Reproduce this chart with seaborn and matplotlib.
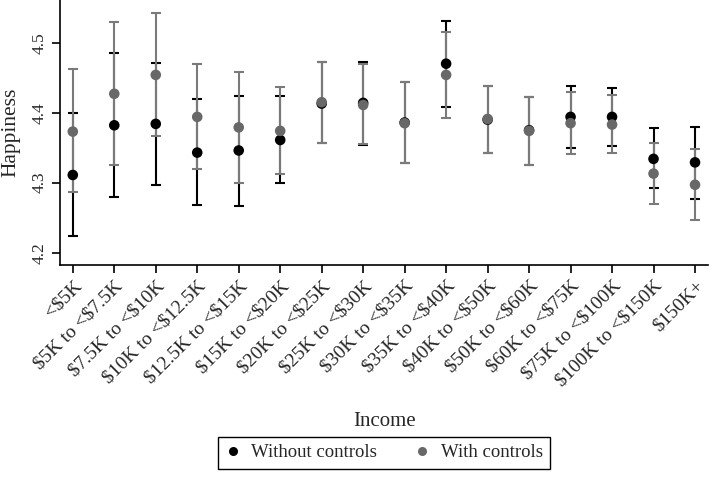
import numpy as np
import pandas as pd
import matplotlib
matplotlib.use("Agg")
import matplotlib.pyplot as plt
import seaborn as sns
from matplotlib.lines import Line2D

categories = ["<$5K", "$5K to <$7.5K", "$7.5K to <$10K", "$10K to <$12.5K",
              "$12.5K to <$15K", "$15K to <$20K", "$20K to <$25K", "$25K to <$30K",
              "$30K to <$35K", "$35K to <$40K", "$40K to <$50K", "$50K to <$60K",
              "$60K to <$75K", "$75K to <$100K", "$100K to <$150K", "$150K+"]

without_mean = [4.311, 4.382, 4.384, 4.343, 4.346, 4.361, 4.413, 4.414,
                4.386, 4.470, 4.390, 4.375, 4.394, 4.394, 4.334, 4.329]
without_lo = [4.224, 4.279, 4.297, 4.268, 4.266, 4.299, 4.356, 4.354,
              4.328, 4.408, 4.342, 4.325, 4.350, 4.353, 4.292, 4.277]
without_hi = [4.400, 4.485, 4.471, 4.419, 4.424, 4.424, 4.473, 4.472,
              4.444, 4.531, 4.438, 4.423, 4.438, 4.435, 4.378, 4.379]

with_mean = [4.373, 4.427, 4.454, 4.394, 4.379, 4.374, 4.415, 4.411,
             4.385, 4.454, 4.391, 4.374, 4.385, 4.383, 4.313, 4.297]
with_lo = [4.286, 4.325, 4.367, 4.319, 4.300, 4.312, 4.357, 4.355,
           4.328, 4.393, 4.342, 4.325, 4.341, 4.342, 4.269, 4.246]
with_hi = [4.462, 4.530, 4.542, 4.470, 4.458, 4.436, 4.472, 4.470,
           4.444, 4.515, 4.438, 4.423, 4.429, 4.425, 4.356, 4.348]

series_names = ["Without controls", "With controls"]
point_colors = {"Without controls": "#000000", "With controls": "#686868"}
bar_colors = {"Without controls": "#000000", "With controls": "#7a7a7a"}

df = pd.concat([
    pd.DataFrame({"Income": categories, "Happiness": without_mean,
                  "lo": without_lo, "hi": without_hi, "Model": series_names[0]}),
    pd.DataFrame({"Income": categories, "Happiness": with_mean,
                  "lo": with_lo, "hi": with_hi, "Model": series_names[1]}),
], ignore_index=True)

sns.set_theme(style="ticks")
plt.rcParams["font.family"] = ["Liberation Serif", "DejaVu Serif"]
plt.rcParams["text.parse_math"] = False

fig = plt.figure(figsize=(7.10, 4.79), dpi=100)
ax = fig.add_axes([0.085, 0.4468, 0.912, 0.5532])

sns.scatterplot(data=df, x="Income", y="Happiness", hue="Model",
                palette=point_colors, s=58, linewidth=0, ax=ax, zorder=4,
                legend=False)

for name in series_names:
    sub = df[df["Model"] == name]
    x = np.arange(len(sub))
    ax.errorbar(x, sub["Happiness"],
                yerr=[sub["Happiness"] - sub["lo"], sub["hi"] - sub["Happiness"]],
                fmt="none", ecolor=bar_colors[name], elinewidth=1.5,
                capsize=3.6, capthick=1.5, zorder=2)

ax.set_xlim(-0.3, 15.31)
ax.set_ylim(4.1824, 4.561)
ax.set_yticks([4.2, 4.3, 4.4, 4.5])
ax.set_yticklabels(["4.2", "4.3", "4.4", "4.5"], rotation=90, va="center",
                   fontsize=12.5)
ax.set_xticks(range(len(categories)))
ax.set_xticklabels(categories, rotation=45, ha="right", rotation_mode="anchor",
                   fontsize=14)
ax.tick_params(axis="both", direction="out", length=6, width=1.2, color="black")
ax.tick_params(axis="x", pad=3)
ax.tick_params(axis="y", pad=3)

for side in ["top", "right"]:
    ax.spines[side].set_visible(False)
for side in ["left", "bottom"]:
    ax.spines[side].set_color("black")
    ax.spines[side].set_linewidth(1.2)

ax.set_xlabel("Income", fontsize=15)
ax.xaxis.set_label_coords(0.5, -0.591)
ax.xaxis.label.set_va("center")
ax.set_ylabel("Happiness", fontsize=15.5)
ax.yaxis.set_label_coords(-0.076, 0.5)
ax.yaxis.label.set_va("center")

handles = [Line2D([], [], marker="o", linestyle="none", markersize=6.5,
                  markerfacecolor=point_colors[n], markeredgewidth=0)
           for n in series_names]
leg = fig.legend(handles, series_names, loc="lower center",
                 bbox_to_anchor=(384 / 710, 0.002), ncol=2, frameon=True,
                 fancybox=False, edgecolor="black", fontsize=13.5,
                 handlelength=0.8, handletextpad=0.6, columnspacing=2.0,
                 borderpad=0.4, framealpha=1)
leg.get_frame().set_linewidth(1.0)

fig.savefig("out.png", dpi=100)
